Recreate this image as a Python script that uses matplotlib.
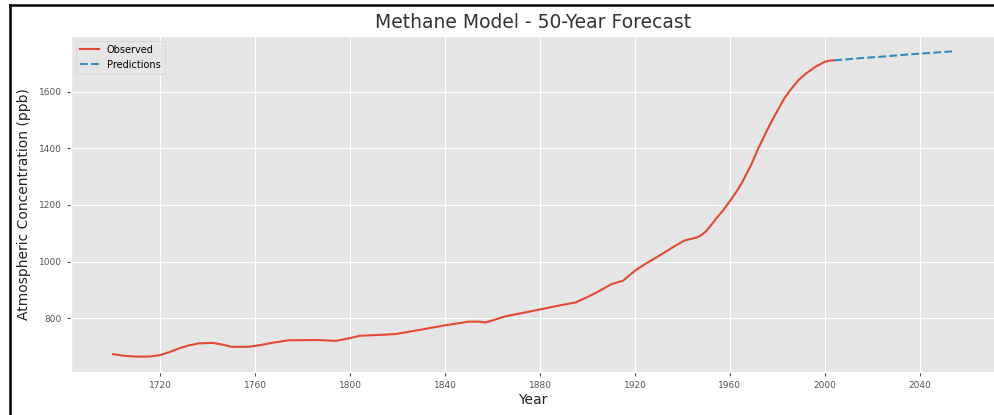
import matplotlib
matplotlib.use("Agg")
import matplotlib.pyplot as plt
from matplotlib.lines import Line2D

plt.style.use('ggplot')

# observed methane (ppb)
obs_years = [1700, 1705, 1711, 1716, 1720, 1724, 1728, 1732, 1736, 1742,
             1746, 1750, 1757, 1762, 1767, 1774, 1786, 1794, 1800, 1804,
             1812, 1819, 1830, 1840, 1850, 1854, 1857, 1861, 1865, 1877,
             1888, 1895, 1900, 1904, 1910, 1915, 1920, 1924, 1929, 1937,
             1941, 1946, 1948, 1950, 1952, 1954, 1957, 1960, 1963, 1965,
             1969, 1972, 1976, 1979, 1983, 1986, 1989, 1992, 1996, 2000,
             2002, 2004]
obs_values = [673, 667, 664, 665, 670, 681, 694, 704, 711, 713,
              707, 699, 699, 705, 713, 722, 723, 720, 730, 738,
              741, 744, 760, 775, 788, 788, 785, 795, 806, 826,
              845, 856, 875, 892, 920, 933, 968, 990, 1015, 1056,
              1075, 1085, 1094, 1108, 1128, 1150, 1180, 1214, 1250, 1278,
              1343, 1401, 1470, 1518, 1578, 1612, 1642, 1664, 1688, 1706,
              1710, 1711]

# 50-year forecast
pred_years = [2004, 2014, 2024, 2034, 2044, 2054]
pred_values = [1711, 1718, 1724, 1731, 1737, 1743]

x_ticks = [1720, 1760, 1800, 1840, 1880, 1920, 1960, 2000, 2040]
y_ticks = [800, 1000, 1200, 1400, 1600]

fig = plt.figure(figsize=(9.94, 4.15), dpi=100)
fig.patch.set_facecolor('white')
ax = fig.add_axes([71 / 994, 1 - 372 / 415, 924 / 994, 336 / 415])

ax.plot(obs_years, obs_values, color='#E24A33', lw=1.5, label='Observed')
ax.plot(pred_years, pred_values, color='#348ABD', lw=1.5, ls='--', label='Predictions')

ax.set_xticks(x_ticks)
ax.set_yticks(y_ticks)
ax.tick_params(labelsize=6.5, colors='#555555', length=3)
ax.set_title('Methane Model - 50-Year Forecast', fontsize=13.5, color='#333333', pad=6)
ax.set_xlabel('Year', fontsize=10, color='#222222', labelpad=2)
ax.set_ylabel('Atmospheric Concentration (ppb)', fontsize=10, color='#222222', labelpad=6)
ax.legend(loc='upper left', fontsize=7)

# screenshot frame on the left and top
fig.add_artist(Line2D([10 / 994, 10 / 994], [0, 1 - 5 / 415], color='black', lw=1.8,
                      transform=fig.transFigure))
fig.add_artist(Line2D([10 / 994, 1], [1 - 5 / 415, 1 - 5 / 415], color='black', lw=1.8,
                      transform=fig.transFigure))

fig.savefig('out.png', dpi=100)
